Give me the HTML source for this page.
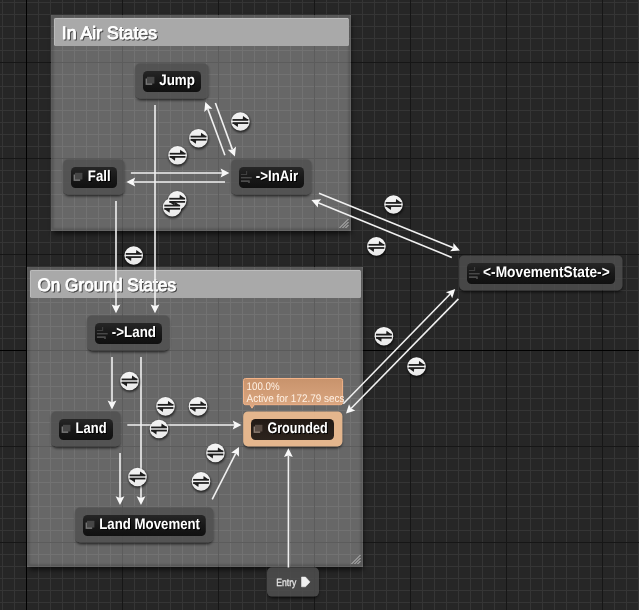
<!DOCTYPE html>
<html lang="en">
<head>
<meta charset="utf-8">
<title>Animation State Machine</title>
<style>
html,body{margin:0;padding:0;background:#262626;overflow:hidden;}
svg{display:block;}
svg text{text-rendering:geometricPrecision;}
text{font-family:"Liberation Sans",sans-serif;}
.lbl{font-weight:bold;font-size:15.3px;fill:#ffffff;}
.lblsh{font-weight:bold;font-size:15.3px;fill:#000000;}
.ttl{font-size:18px;fill:#ffffff;stroke:#ffffff;stroke-width:0.9px;stroke-linejoin:round;}
.ttlsh{font-size:18px;fill:#484848;stroke:#484848;stroke-width:0.9px;stroke-linejoin:round;}
.tip{font-size:11px;fill:#fff1e4;}
.ent{font-size:10.5px;fill:#e8e8e8;stroke:#e8e8e8;stroke-width:0.25px;}
</style>
</head>
<body>
<svg width="639" height="610" viewBox="0 0 639 610">
<defs>
<filter id="sh" x="-20%" y="-20%" width="140%" height="160%"><feGaussianBlur stdDeviation="1.6"/></filter>
<filter id="sh2" x="-20%" y="-20%" width="140%" height="140%"><feGaussianBlur stdDeviation="2.5"/></filter>
<filter id="sh3" x="-30%" y="-30%" width="160%" height="160%"><feGaussianBlur stdDeviation="1.1"/></filter>
<linearGradient id="pill" x1="0" y1="0" x2="0" y2="1"><stop offset="0" stop-color="#262626"/><stop offset="0.5" stop-color="#181818"/><stop offset="1" stop-color="#101010"/></linearGradient>
<linearGradient id="pillg" x1="0" y1="0" x2="0" y2="1"><stop offset="0" stop-color="#221a15"/><stop offset="1" stop-color="#2c231d"/></linearGradient>
<linearGradient id="tipg" x1="0" y1="0" x2="0" y2="1"><stop offset="0" stop-color="#c8936c"/><stop offset="1" stop-color="#dca882"/></linearGradient>
<linearGradient id="circ" x1="0" y1="0" x2="0" y2="1"><stop offset="0" stop-color="#f4f4f4"/><stop offset="1" stop-color="#eaeaea"/></linearGradient>
<g id="ticon">
<circle cx="0" cy="0" r="9.3" fill="url(#circ)"/>
</g>
<g id="tglyph" fill="#1e1e1e">
<rect x="-7.9" y="-2.45" width="15.8" height="1.75"/>
<path d="M2.6,-5.5 L8.2,-1.5 L2.3,-1.5 Z"/>
<rect x="-7.9" y="0.7" width="15.8" height="1.75"/>
<path d="M-2.6,5.5 L-8.2,1.5 L-2.3,1.5 Z"/>
</g>
</defs>
<g opacity="0.999">
<rect width="639" height="610" fill="#262626"/>

<path d="M2.5,0V610M14.5,0V610M38.5,0V610M50.5,0V610M62.5,0V610M74.5,0V610M86.5,0V610M98.5,0V610M110.5,0V610M134.5,0V610M146.5,0V610M158.5,0V610M170.5,0V610M182.5,0V610M194.5,0V610M206.5,0V610M230.5,0V610M242.5,0V610M254.5,0V610M266.5,0V610M278.5,0V610M290.5,0V610M302.5,0V610M326.5,0V610M338.5,0V610M350.5,0V610M362.5,0V610M374.5,0V610M386.5,0V610M398.5,0V610M422.5,0V610M434.5,0V610M446.5,0V610M458.5,0V610M470.5,0V610M482.5,0V610M494.5,0V610M518.5,0V610M530.5,0V610M542.5,0V610M554.5,0V610M566.5,0V610M578.5,0V610M590.5,0V610M614.5,0V610M626.5,0V610M638.5,0V610M0,2.5H639M0,14.5H639M0,26.5H639M0,38.5H639M0,50.5H639M0,74.5H639M0,86.5H639M0,98.5H639M0,110.5H639M0,122.5H639M0,134.5H639M0,146.5H639M0,170.5H639M0,182.5H639M0,194.5H639M0,206.5H639M0,218.5H639M0,230.5H639M0,242.5H639M0,266.5H639M0,278.5H639M0,290.5H639M0,302.5H639M0,314.5H639M0,326.5H639M0,338.5H639M0,362.5H639M0,374.5H639M0,386.5H639M0,398.5H639M0,410.5H639M0,422.5H639M0,434.5H639M0,458.5H639M0,470.5H639M0,482.5H639M0,494.5H639M0,506.5H639M0,518.5H639M0,530.5H639M0,554.5H639M0,566.5H639M0,578.5H639M0,590.5H639M0,602.5H639" stroke="#353535" stroke-width="1" fill="none"/>
<path d="M0,62.5H639M0,158.5H639M0,254.5H639M0,446.5H639M0,542.5H639M122.5,0V610M218.5,0V610M314.5,0V610M410.5,0V610M506.5,0V610M602.5,0V610" stroke="#161616" stroke-width="1" fill="none"/>
<path d="M0,350.5H639M26.5,0V610" stroke="#000000" stroke-width="1" fill="none"/>
<rect x="53" y="18" width="298" height="216" fill="#000" opacity="0.6" filter="url(#sh2)"/>
<rect x="51" y="15" width="300" height="216" fill="#262626"/>
<path d="M62.5,15V231M74.5,15V231M86.5,15V231M98.5,15V231M110.5,15V231M134.5,15V231M146.5,15V231M158.5,15V231M170.5,15V231M182.5,15V231M194.5,15V231M206.5,15V231M230.5,15V231M242.5,15V231M254.5,15V231M266.5,15V231M278.5,15V231M290.5,15V231M302.5,15V231M326.5,15V231M338.5,15V231M350.5,15V231M51,26.5H351M51,38.5H351M51,50.5H351M51,74.5H351M51,86.5H351M51,98.5H351M51,110.5H351M51,122.5H351M51,134.5H351M51,146.5H351M51,170.5H351M51,182.5H351M51,194.5H351M51,206.5H351M51,218.5H351M51,230.5H351" stroke="#353535" stroke-width="1" fill="none"/>
<path d="M51,62.5H351M51,158.5H351M122.5,15V231M218.5,15V231M314.5,15V231" stroke="#161616" stroke-width="1" fill="none"/>
<rect x="51" y="15" width="300" height="216" fill="#ffffff" fill-opacity="0.30"/>
<clipPath id="b1"><rect x="51" y="15" width="300" height="216"/></clipPath>
<g clip-path="url(#b1)"><rect x="52.2" y="16.2" width="297.6" height="213.6" rx="2" fill="none" stroke="#000000" stroke-opacity="0.20" stroke-width="2.4" filter="url(#sh3)"/></g>
<rect x="54" y="18" width="295" height="28" rx="1.5" fill="#a9a9a9"/>
<path d="M54.5,45V19.5a1,1 0 0 1 1,-1H348" stroke="#bcbcbc" stroke-width="1" fill="none"/>
<text class="ttlsh" x="62.8" y="40.3" textLength="95.2" lengthAdjust="spacingAndGlyphs">In Air States</text>
<text class="ttl" x="61.8" y="39.3" textLength="95.2" lengthAdjust="spacingAndGlyphs">In Air States</text>
<path d="M339.5,228.0L348.5,219.0M342.5,228.0L348.5,222.0M345.5,228.0L348.5,225.0" stroke="#d0d0d0" stroke-width="1" fill="none" opacity="0.85"/>
<rect x="29" y="270" width="334" height="300" fill="#000" opacity="0.6" filter="url(#sh2)"/>
<rect x="27" y="267" width="336" height="300" fill="#262626"/>
<path d="M38.5,267V567M50.5,267V567M62.5,267V567M74.5,267V567M86.5,267V567M98.5,267V567M110.5,267V567M134.5,267V567M146.5,267V567M158.5,267V567M170.5,267V567M182.5,267V567M194.5,267V567M206.5,267V567M230.5,267V567M242.5,267V567M254.5,267V567M266.5,267V567M278.5,267V567M290.5,267V567M302.5,267V567M326.5,267V567M338.5,267V567M350.5,267V567M362.5,267V567M27,278.5H363M27,290.5H363M27,302.5H363M27,314.5H363M27,326.5H363M27,338.5H363M27,362.5H363M27,374.5H363M27,386.5H363M27,398.5H363M27,410.5H363M27,422.5H363M27,434.5H363M27,458.5H363M27,470.5H363M27,482.5H363M27,494.5H363M27,506.5H363M27,518.5H363M27,530.5H363M27,554.5H363M27,566.5H363" stroke="#353535" stroke-width="1" fill="none"/>
<path d="M27,446.5H363M27,542.5H363M122.5,267V567M218.5,267V567M314.5,267V567" stroke="#161616" stroke-width="1" fill="none"/>
<path d="M27,350.5H363" stroke="#141414" stroke-width="1" fill="none"/>
<rect x="27" y="267" width="336" height="300" fill="#ffffff" fill-opacity="0.30"/>
<clipPath id="b2"><rect x="27" y="267" width="336" height="300"/></clipPath>
<g clip-path="url(#b2)"><rect x="28.2" y="268.2" width="333.6" height="297.6" rx="2" fill="none" stroke="#000000" stroke-opacity="0.20" stroke-width="2.4" filter="url(#sh3)"/></g>
<rect x="30" y="270" width="331" height="28" rx="1.5" fill="#a9a9a9"/>
<path d="M30.5,297V271.5a1,1 0 0 1 1,-1H360" stroke="#bcbcbc" stroke-width="1" fill="none"/>
<text class="ttlsh" x="38.4" y="292.3" textLength="138.6" lengthAdjust="spacingAndGlyphs">On Ground States</text>
<text class="ttl" x="37.4" y="291.3" textLength="138.6" lengthAdjust="spacingAndGlyphs">On Ground States</text>
<path d="M351.5,564.0L360.5,555.0M354.5,564.0L360.5,558.0M357.5,564.0L360.5,561.0" stroke="#d0d0d0" stroke-width="1" fill="none" opacity="0.85"/>
<clipPath id="c1"><path clip-rule="evenodd" d="M0,0H639V610H0ZM140.00,63.40H203.70A4.8,4.8 0 0 1 208.50,68.20V93.60A4.8,4.8 0 0 1 203.70,98.40H140.00A4.8,4.8 0 0 1 135.20,93.60V68.20A4.8,4.8 0 0 1 140.00,63.40Z"/></clipPath>
<g clip-path="url(#c1)"><rect x="136.0" y="65.0" width="71.7" height="35.0" rx="4.8" fill="#000" opacity="0.75" filter="url(#sh)"/></g>
<path d="M140.00,63.40H203.70A4.8,4.8 0 0 1 208.50,68.20V93.60A4.8,4.8 0 0 1 203.70,98.40H140.00A4.8,4.8 0 0 1 135.20,93.60V68.20A4.8,4.8 0 0 1 140.00,63.40Z" fill="#4f4f4f" fill-opacity="0.82"/>
<rect x="143" y="71" width="58" height="21.0" rx="4.5" fill="url(#pill)"/>
<rect x="145.6" y="78.5" width="6.6" height="6.4" fill="#767676"/>
<rect x="147.0" y="76.8" width="7.4" height="6.7" fill="#464646"/>
<text class="lblsh" x="160.3" y="86.1" textLength="35.6" lengthAdjust="spacingAndGlyphs">Jump</text>
<text class="lbl" x="159.3" y="85.1" textLength="35.6" lengthAdjust="spacingAndGlyphs">Jump</text>
<clipPath id="c2"><path clip-rule="evenodd" d="M0,0H639V610H0ZM68.00,159.40H119.70A4.8,4.8 0 0 1 124.50,164.20V189.60A4.8,4.8 0 0 1 119.70,194.40H68.00A4.8,4.8 0 0 1 63.20,189.60V164.20A4.8,4.8 0 0 1 68.00,159.40Z"/></clipPath>
<g clip-path="url(#c2)"><rect x="64.0" y="161.0" width="59.7" height="35.0" rx="4.8" fill="#000" opacity="0.75" filter="url(#sh)"/></g>
<path d="M68.00,159.40H119.70A4.8,4.8 0 0 1 124.50,164.20V189.60A4.8,4.8 0 0 1 119.70,194.40H68.00A4.8,4.8 0 0 1 63.20,189.60V164.20A4.8,4.8 0 0 1 68.00,159.40Z" fill="#4f4f4f" fill-opacity="0.82"/>
<rect x="71" y="167" width="46" height="21.0" rx="4.5" fill="url(#pill)"/>
<rect x="73.6" y="174.5" width="6.6" height="6.4" fill="#767676"/>
<rect x="75.0" y="172.8" width="7.4" height="6.7" fill="#464646"/>
<text class="lblsh" x="88.8" y="182.1" textLength="22.8" lengthAdjust="spacingAndGlyphs">Fall</text>
<text class="lbl" x="87.8" y="181.1" textLength="22.8" lengthAdjust="spacingAndGlyphs">Fall</text>
<clipPath id="c3"><path clip-rule="evenodd" d="M0,0H639V610H0ZM236.00,159.40H306.70A4.8,4.8 0 0 1 311.50,164.20V189.60A4.8,4.8 0 0 1 306.70,194.40H236.00A4.8,4.8 0 0 1 231.20,189.60V164.20A4.8,4.8 0 0 1 236.00,159.40Z"/></clipPath>
<g clip-path="url(#c3)"><rect x="232.0" y="161.0" width="78.7" height="35.0" rx="4.8" fill="#000" opacity="0.75" filter="url(#sh)"/></g>
<path d="M236.00,159.40H306.70A4.8,4.8 0 0 1 311.50,164.20V189.60A4.8,4.8 0 0 1 306.70,194.40H236.00A4.8,4.8 0 0 1 231.20,189.60V164.20A4.8,4.8 0 0 1 236.00,159.40Z" fill="#4f4f4f" fill-opacity="0.82"/>
<rect x="239" y="167" width="65" height="21.0" rx="4.5" fill="url(#pill)"/>
<path d="M240.9,174.5H246.6V171" stroke="#404040" stroke-width="1.1" fill="none"/>
<path d="M240.9,177.7H251.7" stroke="#484848" stroke-width="1.5" fill="none"/>
<path d="M240.9,181.2H249.7M249.0,181.2V183" stroke="#4c4c4c" stroke-width="1.7" fill="none"/>
<text class="lblsh" x="256.8" y="182.1" textLength="42.4" lengthAdjust="spacingAndGlyphs">-&gt;InAir</text>
<text class="lbl" x="255.8" y="181.1" textLength="42.4" lengthAdjust="spacingAndGlyphs">-&gt;InAir</text>
<clipPath id="c4"><path clip-rule="evenodd" d="M0,0H639V610H0ZM464.00,255.40H617.70A4.8,4.8 0 0 1 622.50,260.20V285.60A4.8,4.8 0 0 1 617.70,290.40H464.00A4.8,4.8 0 0 1 459.20,285.60V260.20A4.8,4.8 0 0 1 464.00,255.40Z"/></clipPath>
<g clip-path="url(#c4)"><rect x="460.0" y="257.0" width="161.7" height="35.0" rx="4.8" fill="#000" opacity="0.75" filter="url(#sh)"/></g>
<path d="M464.00,255.40H617.70A4.8,4.8 0 0 1 622.50,260.20V285.60A4.8,4.8 0 0 1 617.70,290.40H464.00A4.8,4.8 0 0 1 459.20,285.60V260.20A4.8,4.8 0 0 1 464.00,255.40Z" fill="#4f4f4f" fill-opacity="0.82"/>
<rect x="467" y="263" width="148" height="21.0" rx="4.5" fill="url(#pill)"/>
<path d="M468.9,270.5H474.6V267" stroke="#404040" stroke-width="1.1" fill="none"/>
<path d="M468.9,273.7H479.7" stroke="#484848" stroke-width="1.5" fill="none"/>
<path d="M468.9,277.2H477.7M477.0,277.2V279" stroke="#4c4c4c" stroke-width="1.7" fill="none"/>
<text class="lblsh" x="484.1" y="278.1" textLength="126.6" lengthAdjust="spacingAndGlyphs">&lt;-MovementState-&gt;</text>
<text class="lbl" x="483.1" y="277.1" textLength="126.6" lengthAdjust="spacingAndGlyphs">&lt;-MovementState-&gt;</text>
<clipPath id="c5"><path clip-rule="evenodd" d="M0,0H639V610H0ZM92.00,315.40H164.70A4.8,4.8 0 0 1 169.50,320.20V345.60A4.8,4.8 0 0 1 164.70,350.40H92.00A4.8,4.8 0 0 1 87.20,345.60V320.20A4.8,4.8 0 0 1 92.00,315.40Z"/></clipPath>
<g clip-path="url(#c5)"><rect x="88.0" y="317.0" width="80.7" height="35.0" rx="4.8" fill="#000" opacity="0.75" filter="url(#sh)"/></g>
<path d="M92.00,315.40H164.70A4.8,4.8 0 0 1 169.50,320.20V345.60A4.8,4.8 0 0 1 164.70,350.40H92.00A4.8,4.8 0 0 1 87.20,345.60V320.20A4.8,4.8 0 0 1 92.00,315.40Z" fill="#4f4f4f" fill-opacity="0.82"/>
<rect x="95" y="323" width="67" height="21.0" rx="4.5" fill="url(#pill)"/>
<path d="M96.9,330.5H102.6V327" stroke="#404040" stroke-width="1.1" fill="none"/>
<path d="M96.9,333.7H107.7" stroke="#484848" stroke-width="1.5" fill="none"/>
<path d="M96.9,337.2H105.7M105.0,337.2V339" stroke="#4c4c4c" stroke-width="1.7" fill="none"/>
<text class="lblsh" x="112.8" y="338.1" textLength="44.2" lengthAdjust="spacingAndGlyphs">-&gt;Land</text>
<text class="lbl" x="111.8" y="337.1" textLength="44.2" lengthAdjust="spacingAndGlyphs">-&gt;Land</text>
<clipPath id="c6"><path clip-rule="evenodd" d="M0,0H639V610H0ZM56.00,411.40H115.70A4.8,4.8 0 0 1 120.50,416.20V441.60A4.8,4.8 0 0 1 115.70,446.40H56.00A4.8,4.8 0 0 1 51.20,441.60V416.20A4.8,4.8 0 0 1 56.00,411.40Z"/></clipPath>
<g clip-path="url(#c6)"><rect x="52.0" y="413.0" width="67.7" height="35.0" rx="4.8" fill="#000" opacity="0.75" filter="url(#sh)"/></g>
<path d="M56.00,411.40H115.70A4.8,4.8 0 0 1 120.50,416.20V441.60A4.8,4.8 0 0 1 115.70,446.40H56.00A4.8,4.8 0 0 1 51.20,441.60V416.20A4.8,4.8 0 0 1 56.00,411.40Z" fill="#4f4f4f" fill-opacity="0.82"/>
<rect x="59" y="419" width="54" height="21.0" rx="4.5" fill="url(#pill)"/>
<rect x="61.6" y="426.5" width="6.6" height="6.4" fill="#767676"/>
<rect x="63.0" y="424.8" width="7.4" height="6.7" fill="#464646"/>
<text class="lblsh" x="76.6" y="434.1" textLength="31" lengthAdjust="spacingAndGlyphs">Land</text>
<text class="lbl" x="75.6" y="433.1" textLength="31" lengthAdjust="spacingAndGlyphs">Land</text>
<clipPath id="c7"><path clip-rule="evenodd" d="M0,0H639V610H0ZM80.00,507.40H208.50A4.8,4.8 0 0 1 213.30,512.20V537.60A4.8,4.8 0 0 1 208.50,542.40H80.00A4.8,4.8 0 0 1 75.20,537.60V512.20A4.8,4.8 0 0 1 80.00,507.40Z"/></clipPath>
<g clip-path="url(#c7)"><rect x="76.0" y="509.0" width="136.5" height="35.0" rx="4.8" fill="#000" opacity="0.75" filter="url(#sh)"/></g>
<path d="M80.00,507.40H208.50A4.8,4.8 0 0 1 213.30,512.20V537.60A4.8,4.8 0 0 1 208.50,542.40H80.00A4.8,4.8 0 0 1 75.20,537.60V512.20A4.8,4.8 0 0 1 80.00,507.40Z" fill="#4f4f4f" fill-opacity="0.82"/>
<rect x="83" y="515" width="122.8" height="21.0" rx="4.5" fill="url(#pill)"/>
<rect x="85.6" y="522.5" width="6.6" height="6.4" fill="#767676"/>
<rect x="87.0" y="520.8" width="7.4" height="6.7" fill="#464646"/>
<text class="lblsh" x="100.25" y="530.1" textLength="100.75" lengthAdjust="spacingAndGlyphs">Land Movement</text>
<text class="lbl" x="99.25" y="529.1" textLength="100.75" lengthAdjust="spacingAndGlyphs">Land Movement</text>
<clipPath id="c8"><path clip-rule="evenodd" d="M0,0H639V610H0ZM248.00,411.40H337.60A4.8,4.8 0 0 1 342.40,416.20V441.60A4.8,4.8 0 0 1 337.60,446.40H248.00A4.8,4.8 0 0 1 243.20,441.60V416.20A4.8,4.8 0 0 1 248.00,411.40Z"/></clipPath>
<g clip-path="url(#c8)"><rect x="244.0" y="413.0" width="97.6" height="35.0" rx="4.8" fill="#000" opacity="0.75" filter="url(#sh)"/></g>
<path d="M248.00,411.40H337.60A4.8,4.8 0 0 1 342.40,416.20V441.60A4.8,4.8 0 0 1 337.60,446.40H248.00A4.8,4.8 0 0 1 243.20,441.60V416.20A4.8,4.8 0 0 1 248.00,411.40Z" fill="#e9b98f" fill-opacity="0.96"/>
<rect x="251" y="419" width="83" height="21.0" rx="4.5" fill="url(#pillg)"/>
<rect x="253.6" y="426.5" width="6.6" height="6.4" fill="#8a7b70"/>
<rect x="255.0" y="424.8" width="7.4" height="6.7" fill="#574a42"/>
<text class="lblsh" x="268.4" y="434.1" textLength="60.2" lengthAdjust="spacingAndGlyphs">Grounded</text>
<text class="lbl" x="267.4" y="433.1" textLength="60.2" lengthAdjust="spacingAndGlyphs">Grounded</text>
<path d="M245.5,378.5H340.6a2,2 0 0 1 2,2V402.7a2,2 0 0 1 -2,2H254.2L252,408.2L249.8,404.7H245.5a2,2 0 0 1 -2,-2V380.5a2,2 0 0 1 2,-2Z" fill="url(#tipg)" stroke="#f3b388" stroke-width="1"/>
<text class="tip" x="246.6" y="390.4" textLength="33" lengthAdjust="spacingAndGlyphs">100.0%</text>
<text class="tip" x="246.6" y="402.3" textLength="98" lengthAdjust="spacingAndGlyphs">Active for 172.79 secs</text>
<clipPath id="ce"><path clip-rule="evenodd" d="M0,0H639V610H0ZM272,567.3H314A5,5 0 0 1 319,572.3V591.5999999999999A5,5 0 0 1 314,596.5999999999999H272A5,5 0 0 1 267,591.5999999999999V572.3A5,5 0 0 1 272,567.3Z"/></clipPath>
<g clip-path="url(#ce)"><rect x="267.8" y="568.9" width="50.4" height="29.3" rx="5" fill="#000" opacity="0.7" filter="url(#sh)"/></g>
<path d="M272,567.3H314A5,5 0 0 1 319,572.3V591.5999999999999A5,5 0 0 1 314,596.5999999999999H272A5,5 0 0 1 267,591.5999999999999V572.3A5,5 0 0 1 272,567.3Z" fill="#4f4f4f" fill-opacity="0.85"/>
<text class="ent" x="276.2" y="586.1" textLength="20.2" lengthAdjust="spacingAndGlyphs">Entry</text>
<path d="M301.5,577H305.5L310,581.9L305.5,586.8H301.5Z" fill="#f0f0f0" stroke="#f0f0f0" stroke-width="0.5" stroke-linejoin="round"/>
<path d="M224.90,155.20L207.79,108.85" stroke="#f0f0f0" stroke-width="1.6" fill="none"/>
<path d="M205.30,102.10L212.48,108.83L207.79,108.85L204.22,111.88Z" fill="#f8f8f8"/>
<path d="M215.40,103.10L232.43,149.64" stroke="#f0f0f0" stroke-width="1.6" fill="none"/>
<path d="M234.90,156.40L227.74,149.65L232.43,149.64L236.01,146.62Z" fill="#f8f8f8"/>
<path d="M130.90,173.00L222.20,173.00" stroke="#f0f0f0" stroke-width="1.6" fill="none"/>
<path d="M229.40,173.00L220.60,177.40L222.20,173.00L220.60,168.60Z" fill="#f8f8f8"/>
<path d="M225.00,182.00L133.60,182.00" stroke="#f0f0f0" stroke-width="1.6" fill="none"/>
<path d="M126.40,182.00L135.20,177.60L133.60,182.00L135.20,186.40Z" fill="#f8f8f8"/>
<path d="M319.00,193.35L453.23,247.79" stroke="#f0f0f0" stroke-width="1.6" fill="none"/>
<path d="M459.90,250.50L450.09,251.27L453.23,247.79L453.40,243.12Z" fill="#f8f8f8"/>
<path d="M451.80,257.40L318.07,202.82" stroke="#f0f0f0" stroke-width="1.6" fill="none"/>
<path d="M311.40,200.10L321.21,199.35L318.07,202.82L317.88,207.50Z" fill="#f8f8f8"/>
<path d="M343.30,403.80L450.18,294.06" stroke="#f0f0f0" stroke-width="1.6" fill="none"/>
<path d="M455.20,288.90L452.21,298.27L450.18,294.06L445.91,292.13Z" fill="#f8f8f8"/>
<path d="M458.40,298.90L351.04,408.46" stroke="#f0f0f0" stroke-width="1.6" fill="none"/>
<path d="M346.00,413.60L349.02,404.24L351.04,408.46L355.30,410.39Z" fill="#f8f8f8"/>
<path d="M116.00,201.00L116.00,306.10" stroke="#f0f0f0" stroke-width="1.6" fill="none"/>
<path d="M116.00,313.30L111.60,304.50L116.00,306.10L120.40,304.50Z" fill="#f8f8f8"/>
<path d="M155.00,105.00L155.00,306.10" stroke="#f0f0f0" stroke-width="1.6" fill="none"/>
<path d="M155.00,313.30L150.60,304.50L155.00,306.10L159.40,304.50Z" fill="#f8f8f8"/>
<path d="M112.00,357.00L112.00,402.20" stroke="#f0f0f0" stroke-width="1.6" fill="none"/>
<path d="M112.00,409.40L107.60,400.60L112.00,402.20L116.40,400.60Z" fill="#f8f8f8"/>
<path d="M141.00,357.00L141.00,497.90" stroke="#f0f0f0" stroke-width="1.6" fill="none"/>
<path d="M141.00,505.10L136.60,496.30L141.00,497.90L145.40,496.30Z" fill="#f8f8f8"/>
<path d="M120.00,453.00L120.00,497.90" stroke="#f0f0f0" stroke-width="1.6" fill="none"/>
<path d="M120.00,505.10L115.60,496.30L120.00,497.90L124.40,496.30Z" fill="#f8f8f8"/>
<path d="M127.30,425.00L234.30,425.00" stroke="#f0f0f0" stroke-width="1.6" fill="none"/>
<path d="M241.50,425.00L232.70,429.40L234.30,425.00L232.70,420.60Z" fill="#f8f8f8"/>
<path d="M212.20,499.40L235.73,453.31" stroke="#f0f0f0" stroke-width="1.6" fill="none"/>
<path d="M239.00,446.90L238.92,456.74L235.73,453.31L231.08,452.74Z" fill="#f8f8f8"/>
<path d="M288.40,567.50L288.40,455.40" stroke="#f0f0f0" stroke-width="1.6" fill="none"/>
<path d="M288.40,448.20L292.80,457.00L288.40,455.40L284.00,457.00Z" fill="#f8f8f8"/>
<circle cx="240.9" cy="122.9" r="9.7" fill="#000" opacity="0.65" filter="url(#sh3)"/>
<circle cx="199.0" cy="139.6" r="9.7" fill="#000" opacity="0.65" filter="url(#sh3)"/>
<circle cx="178.1" cy="156.70000000000002" r="9.7" fill="#000" opacity="0.65" filter="url(#sh3)"/>
<circle cx="177.7" cy="201.70000000000002" r="9.7" fill="#000" opacity="0.65" filter="url(#sh3)"/>
<circle cx="172.7" cy="208.6" r="9.7" fill="#000" opacity="0.65" filter="url(#sh3)"/>
<circle cx="394.0" cy="205.9" r="9.7" fill="#000" opacity="0.65" filter="url(#sh3)"/>
<circle cx="376.9" cy="247.8" r="9.7" fill="#000" opacity="0.65" filter="url(#sh3)"/>
<circle cx="384.4" cy="337.59999999999997" r="9.7" fill="#000" opacity="0.65" filter="url(#sh3)"/>
<circle cx="417.0" cy="367.9" r="9.7" fill="#000" opacity="0.65" filter="url(#sh3)"/>
<circle cx="134.2" cy="256.9" r="9.7" fill="#000" opacity="0.65" filter="url(#sh3)"/>
<circle cx="130.0" cy="382.4" r="9.7" fill="#000" opacity="0.65" filter="url(#sh3)"/>
<circle cx="166.0" cy="407.79999999999995" r="9.7" fill="#000" opacity="0.65" filter="url(#sh3)"/>
<circle cx="198.5" cy="407.79999999999995" r="9.7" fill="#000" opacity="0.65" filter="url(#sh3)"/>
<circle cx="159.5" cy="430.4" r="9.7" fill="#000" opacity="0.65" filter="url(#sh3)"/>
<circle cx="215.9" cy="454.29999999999995" r="9.7" fill="#000" opacity="0.65" filter="url(#sh3)"/>
<circle cx="138.0" cy="478.4" r="9.7" fill="#000" opacity="0.65" filter="url(#sh3)"/>
<circle cx="201.5" cy="482.79999999999995" r="9.7" fill="#000" opacity="0.65" filter="url(#sh3)"/>
<use href="#ticon" x="240.4" y="121.5"/>
<use href="#ticon" x="198.5" y="138.2"/>
<use href="#ticon" x="177.6" y="155.3"/>
<use href="#ticon" x="177.2" y="200.3"/>
<use href="#ticon" x="172.2" y="207.2"/>
<use href="#ticon" x="393.5" y="204.5"/>
<use href="#ticon" x="376.4" y="246.4"/>
<use href="#ticon" x="383.9" y="336.2"/>
<use href="#ticon" x="416.5" y="366.5"/>
<use href="#ticon" x="133.7" y="255.5"/>
<use href="#ticon" x="129.5" y="381.0"/>
<use href="#ticon" x="165.5" y="406.4"/>
<use href="#ticon" x="198.0" y="406.4"/>
<use href="#ticon" x="159.0" y="429.0"/>
<use href="#ticon" x="215.4" y="452.9"/>
<use href="#ticon" x="137.5" y="477.0"/>
<use href="#ticon" x="201.0" y="481.4"/>
<use href="#tglyph" x="240.4" y="121.5"/>
<use href="#tglyph" x="198.5" y="138.2"/>
<use href="#tglyph" x="177.6" y="155.3"/>
<use href="#tglyph" x="177.2" y="200.3"/>
<use href="#tglyph" x="172.2" y="207.2"/>
<use href="#tglyph" x="393.5" y="204.5"/>
<use href="#tglyph" x="376.4" y="246.4"/>
<use href="#tglyph" x="383.9" y="336.2"/>
<use href="#tglyph" x="416.5" y="366.5"/>
<use href="#tglyph" x="133.7" y="255.5"/>
<use href="#tglyph" x="129.5" y="381.0"/>
<use href="#tglyph" x="165.5" y="406.4"/>
<use href="#tglyph" x="198.0" y="406.4"/>
<use href="#tglyph" x="159.0" y="429.0"/>
<use href="#tglyph" x="215.4" y="452.9"/>
<use href="#tglyph" x="137.5" y="477.0"/>
<use href="#tglyph" x="201.0" y="481.4"/>
</g>
</svg>
</body>
</html>
